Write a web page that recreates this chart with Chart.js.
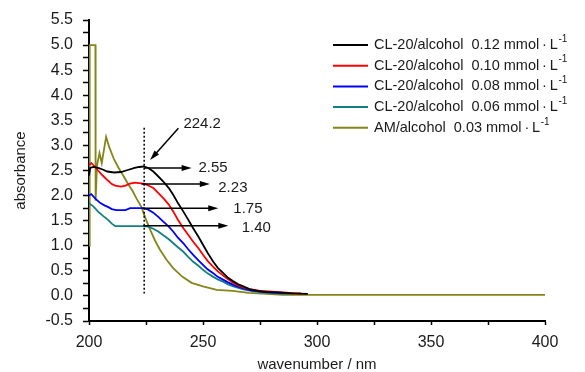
<!DOCTYPE html>
<html>
<head>
<meta charset="utf-8">
<script src="https://cdn.jsdelivr.net/npm/chart.js@4.4.1/dist/chart.umd.min.js"></script>
<style>
html, body { margin: 0; padding: 0; background: #fff; }
#wrap { width: 585px; height: 372px; }
</style>
</head>
<body>
<div id="wrap"><canvas id="myChart" width="585" height="372"></canvas></div>
<script>
// CL-20/alcohol 0.12 mmol/L
let nm_012 = [200, 200.5, 202, 204, 206, 208, 211, 214, 217, 220, 222, 224, 226, 228.2, 230, 232.6, 235, 237, 239, 241.4, 243.5, 245.7, 248, 250, 252, 254.5, 256.5, 259, 261, 263.3, 265.5, 267.7, 270.6, 274, 278, 283, 289, 296];
let abs_012 = [2.40, 2.55, 2.57, 2.55, 2.52, 2.48, 2.46, 2.47, 2.51, 2.55, 2.57, 2.58, 2.55, 2.48, 2.40, 2.28, 2.15, 2.01, 1.85, 1.68, 1.52, 1.35, 1.18, 1.02, 0.86, 0.68, 0.56, 0.45, 0.36, 0.29, 0.23, 0.19, 0.13, 0.10, 0.08, 0.07, 0.05, 0.04];

// CL-20/alcohol 0.10 mmol/L
let nm_010 = [200, 201, 202.5, 204, 206, 208.3, 210, 211.5, 214, 216, 218, 220, 224, 226, 228.2, 230, 232.6, 235, 237, 239, 241.4, 243.5, 245.7, 248, 250, 252, 254.5, 256.5, 259, 261, 263.3, 265.5, 267.7, 270, 275, 282, 288, 293];
let abs_010 = [2.60, 2.65, 2.58, 2.50, 2.40, 2.30, 2.23, 2.20, 2.18, 2.20, 2.24, 2.26, 2.24, 2.20, 2.15, 2.07, 1.95, 1.82, 1.68, 1.52, 1.35, 1.22, 1.08, 0.95, 0.82, 0.70, 0.58, 0.49, 0.40, 0.33, 0.26, 0.21, 0.17, 0.14, 0.10, 0.08, 0.06, 0.05];

// CL-20/alcohol 0.08 mmol/L
let nm_008 = [200, 201, 203, 205, 207, 208.5, 210, 212, 216, 218, 223.8, 226, 228.2, 230.5, 232.6, 235, 237, 239, 241.4, 243.5, 245.7, 248, 250, 252, 254.5, 256.5, 259, 261, 263.3, 265.5, 267.7, 271, 276, 282, 290];
let abs_008 = [2.00, 2.03, 1.93, 1.85, 1.80, 1.77, 1.73, 1.71, 1.71, 1.75, 1.75, 1.72, 1.66, 1.57, 1.48, 1.38, 1.28, 1.16, 1.05, 0.93, 0.82, 0.71, 0.62, 0.53, 0.45, 0.38, 0.32, 0.27, 0.22, 0.18, 0.15, 0.11, 0.08, 0.06, 0.05];

// CL-20/alcohol 0.06 mmol/L
let nm_006 = [200, 202, 204, 206, 208.5, 210, 211.5, 215, 223.8, 226, 228.2, 230.5, 232.6, 235, 237, 239, 241.4, 243.5, 245.7, 248, 250, 252, 254.5, 256.5, 259, 261, 263.3, 265.5, 267.7, 271, 276, 282, 288];
let abs_006 = [1.85, 1.78, 1.68, 1.60, 1.51, 1.44, 1.39, 1.39, 1.39, 1.38, 1.34, 1.28, 1.21, 1.13, 1.05, 0.97, 0.88, 0.78, 0.68, 0.60, 0.52, 0.45, 0.38, 0.33, 0.28, 0.23, 0.19, 0.16, 0.13, 0.10, 0.07, 0.05, 0.04];

// AM/alcohol 0.03 mmol/L
let nm_am = [200.3, 200.3, 202.8, 202.9, 203.5, 204.6, 205.6, 207.5, 209, 211, 213, 215, 217, 219, 221, 223, 225, 227, 229, 231, 234, 237, 241, 245, 250, 256, 263, 270, 278, 285, 400];
let abs_am = [0.98, 5.00, 5.00, 1.90, 2.60, 2.85, 2.65, 3.17, 2.95, 2.72, 2.55, 2.40, 2.24, 2.10, 1.93, 1.77, 1.52, 1.30, 1.10, 0.93, 0.72, 0.55, 0.38, 0.26, 0.19, 0.12, 0.10, 0.06, 0.04, 0.02, 0.02];

let seriesNames = ['CL-20/alcohol  0.12 mmol\u2009\u00B7\u2009L', 'CL-20/alcohol  0.10 mmol\u2009\u00B7\u2009L', 'CL-20/alcohol  0.08 mmol\u2009\u00B7\u2009L', 'CL-20/alcohol  0.06 mmol\u2009\u00B7\u2009L', 'AM/alcohol  0.03 mmol\u2009\u00B7\u2009L'];
let unitSup = '-1';
let seriesColors = ['#000000', '#ff0000', '#0000ff', '#12807f', '#85851a'];

let markerNm = 224.2;
let valueLabels = ['2.55', '2.23', '1.75', '1.40'];
let valueLevels = [2.55, 2.23, 1.75, 1.40];

let allNm = [nm_012, nm_010, nm_008, nm_006, nm_am];
let allAbs = [abs_012, abs_010, abs_008, abs_006, abs_am];

Chart.defaults.font.family = '"Liberation Sans", Arial, sans-serif';
Chart.defaults.color = '#1a1a1a';

function drawArrow(ctx, x0, y0, x1, y1) {
    let ang = Math.atan2(y1 - y0, x1 - x0);
    let len = 10, half = 3;
    ctx.beginPath();
    ctx.moveTo(x0, y0);
    ctx.lineTo(x1 - Math.cos(ang) * len * 0.8, y1 - Math.sin(ang) * len * 0.8);
    ctx.stroke();
    ctx.beginPath();
    ctx.moveTo(x1, y1);
    ctx.lineTo(x1 - Math.cos(ang) * len - Math.sin(ang) * half, y1 - Math.sin(ang) * len + Math.cos(ang) * half);
    ctx.lineTo(x1 - Math.cos(ang) * len + Math.sin(ang) * half, y1 - Math.sin(ang) * len - Math.cos(ang) * half);
    ctx.closePath();
    ctx.fill();
}

// dotted marker, arrows and value labels
let annotate = {
    id: 'annotate',
    afterDatasetsDraw(chart) {
        let ctx = chart.ctx;
        let x = chart.scales.x, y = chart.scales.y;
        ctx.save();
        ctx.strokeStyle = '#000';
        ctx.fillStyle = '#000';
        ctx.lineWidth = 1.5;
        ctx.setLineDash([2, 2]);
        ctx.beginPath();
        ctx.moveTo(x.getPixelForValue(markerNm), y.getPixelForValue(3.35));
        ctx.lineTo(x.getPixelForValue(markerNm), y.getPixelForValue(0.05));
        ctx.stroke();
        ctx.setLineDash([]);

        ctx.font = '15px "Liberation Sans", Arial, sans-serif';
        ctx.textBaseline = 'middle';
        ctx.textAlign = 'left';
        ctx.fillStyle = '#1a1a1a';
        ctx.fillText(String(markerNm), x.getPixelForValue(241.4), y.getPixelForValue(3.43));
        ctx.fillStyle = '#000';
        drawArrow(ctx, x.getPixelForValue(239.2), y.getPixelForValue(3.34), x.getPixelForValue(226.8), y.getPixelForValue(2.71));

        let ends = [245, 253, 256.7, 261.1];
        let starts = [224.2, 223, 223.5, 223.8];
        let textNm = [248, 256.7, 263.3, 267];
        let textShift = [0.01, -0.07, -0.02, -0.04];
        for (let i = 0; i < valueLevels.length; i++) {
            let py = y.getPixelForValue(valueLevels[i]);
            ctx.fillStyle = '#000';
            drawArrow(ctx, x.getPixelForValue(starts[i]), py, x.getPixelForValue(ends[i]), py);
            ctx.fillStyle = '#1a1a1a';
            ctx.fillText(valueLabels[i], x.getPixelForValue(textNm[i]), y.getPixelForValue(valueLevels[i] + textShift[i]));
        }
        ctx.restore();
    }
};

// legend in the upper right with superscript units
let sideLegend = {
    id: 'sideLegend',
    afterDraw(chart) {
        let ctx = chart.ctx;
        ctx.save();
        ctx.textBaseline = 'middle';
        ctx.textAlign = 'left';
        for (let i = 0; i < seriesNames.length; i++) {
            let ry = 45 + i * 20.7;
            ctx.strokeStyle = seriesColors[i];
            ctx.lineWidth = 2;
            ctx.beginPath();
            ctx.moveTo(333, ry);
            ctx.lineTo(368, ry);
            ctx.stroke();
            ctx.fillStyle = '#1a1a1a';
            ctx.font = '14.5px "Liberation Sans", Arial, sans-serif';
            ctx.fillText(seriesNames[i], 374, ry);
            let w = ctx.measureText(seriesNames[i]).width;
            ctx.font = '10px "Liberation Sans", Arial, sans-serif';
            ctx.fillText(unitSup, 374 + w + 0.5, ry - 6);
        }
        ctx.restore();
    }
};

let datasets = [];
for (let i = 0; i < allNm.length; i++) {
    datasets.push({
        label: seriesNames[i],
        data: allNm[i].map((v, j) => ({x: v, y: allAbs[i][j]})),
        borderColor: seriesColors[i],
        backgroundColor: seriesColors[i],
        borderWidth: 1.8,
        pointRadius: 0,
        tension: 0,
        fill: false
    });
}
// AM drawn underneath the CL-20 curves
datasets[4].order = 1;

let ctx = document.querySelector('#myChart').getContext('2d');
let myChart = new Chart(ctx, {
    type: 'line',
    data: { datasets: datasets },
    options: {
        responsive: false,
        animation: false,
        devicePixelRatio: 1,
        layout: { padding: { top: 20, right: 40, left: 0, bottom: 0 } },
        plugins: {
            legend: { display: false },
            tooltip: { enabled: false }
        },
        scales: {
            x: {
                type: 'linear',
                min: 200,
                max: 400,
                afterFit: function (scale) { scale.height = 51; },
                border: { color: '#000', width: 2 },
                grid: { drawOnChartArea: false, tickLength: 4, tickColor: '#000', tickWidth: 1.5 },
                ticks: {
                    stepSize: 25,
                    autoSkip: false,
                    maxRotation: 0,
                    padding: 8,
                    font: { size: 16 },
                    callback: function (value) {
                        return value % 50 === 0 ? String(value) : '';
                    }
                },
                title: {
                    display: true,
                    text: 'wavenumber / nm',
                    font: { size: 15, lineHeight: 1 },
                    padding: { top: 0, bottom: 0 }
                }
            },
            y: {
                min: -0.5,
                max: 5.5,
                afterFit: function (scale) { scale.width = 89; },
                border: { color: '#000', width: 2 },
                grid: { drawOnChartArea: false, tickLength: 6, tickColor: '#000', tickWidth: 1.5 },
                ticks: {
                    stepSize: 0.25,
                    autoSkip: false,
                    padding: 10,
                    font: { size: 16 },
                    callback: function (value) {
                        return Math.abs(Math.round(value * 4)) % 2 === 0 ? value.toFixed(1) : '';
                    }
                },
                title: {
                    display: true,
                    text: 'absorbance',
                    font: { size: 15, lineHeight: 1 },
                    padding: { top: 13, bottom: 0 }
                }
            }
        }
    },
    plugins: [annotate, sideLegend]
});
</script>
</body>
</html>
